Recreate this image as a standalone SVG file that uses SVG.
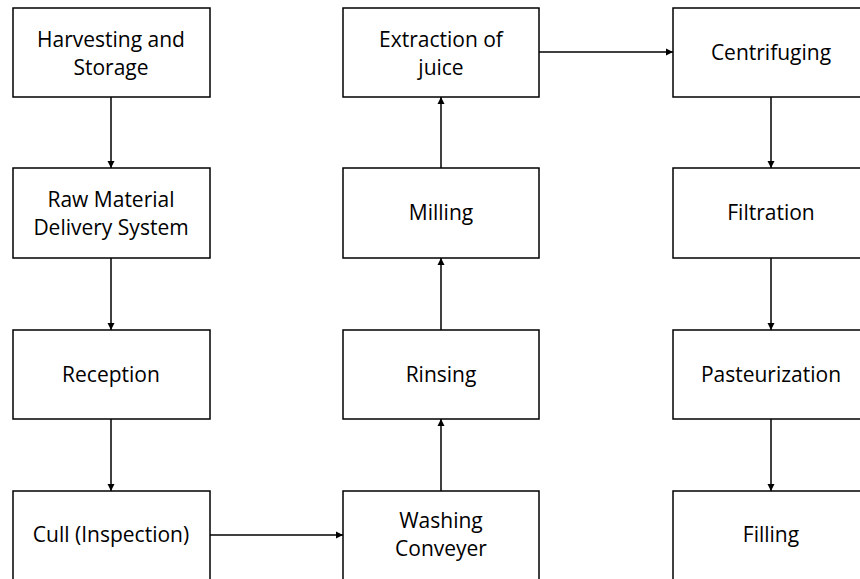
<svg xmlns="http://www.w3.org/2000/svg" width="860" height="579" viewBox="0 0 860 579">
<defs>
<marker id="ah" markerWidth="8" markerHeight="8" refX="7" refY="4" orient="auto" markerUnits="userSpaceOnUse">
<path d="M0,0.5 L7,4 L0,7.5 Z" fill="#000"/>
</marker>
<style>
.box{fill:#fff;stroke:#000;stroke-width:1.5}
.t{font-family:"Open Sans","Noto Sans",sans-serif;font-size:21px;fill:#000;text-anchor:middle}
.c{stroke:#000;stroke-width:1.5;fill:none;marker-end:url(#ah)}
</style>
</defs>
<rect width="860" height="579" fill="#fff"/>
<g id="connectors">
<line class="c" x1="111" y1="97" x2="111" y2="168"/>
<line class="c" x1="111" y1="258" x2="111" y2="330"/>
<line class="c" x1="111" y1="419" x2="111" y2="491"/>
<line class="c" x1="210" y1="535" x2="343" y2="535"/>
<line class="c" x1="441" y1="491" x2="441" y2="419"/>
<line class="c" x1="441" y1="330" x2="441" y2="258"/>
<line class="c" x1="441" y1="168" x2="441" y2="97"/>
<line class="c" x1="539" y1="52" x2="673" y2="52"/>
<line class="c" x1="771" y1="97" x2="771" y2="168"/>
<line class="c" x1="771" y1="258" x2="771" y2="330"/>
<line class="c" x1="771" y1="419" x2="771" y2="491"/>
</g>
<g id="harvesting"><rect class="box" x="13" y="8" width="197" height="89"/><text class="t" x="111" y="47">Harvesting and</text><text class="t" x="111" y="75">Storage</text></g>
<g id="rawmaterial"><rect class="box" x="13" y="168" width="197" height="90"/><text class="t" x="111" y="207">Raw Material</text><text class="t" x="111" y="235">Delivery System</text></g>
<g id="reception"><rect class="box" x="13" y="330" width="197" height="89"/><text class="t" x="111" y="382">Reception</text></g>
<g id="cull"><rect class="box" x="13" y="491" width="197" height="100"/><text class="t" x="111" y="542">Cull (Inspection)</text></g>
<g id="washing"><rect class="box" x="343" y="491" width="196" height="100"/><text class="t" x="441" y="528">Washing</text><text class="t" x="441" y="556">Conveyer</text></g>
<g id="rinsing"><rect class="box" x="343" y="330" width="196" height="89"/><text class="t" x="441" y="382">Rinsing</text></g>
<g id="milling"><rect class="box" x="343" y="168" width="196" height="90"/><text class="t" x="441" y="220">Milling</text></g>
<g id="extraction"><rect class="box" x="343" y="8" width="196" height="89"/><text class="t" x="441" y="47">Extraction of</text><text class="t" x="441" y="75">juice</text></g>
<g id="centrifuging"><rect class="box" x="673" y="8" width="197" height="89"/><text class="t" x="771" y="60">Centrifuging</text></g>
<g id="filtration"><rect class="box" x="673" y="168" width="197" height="90"/><text class="t" x="771" y="220">Filtration</text></g>
<g id="pasteurization"><rect class="box" x="673" y="330" width="197" height="89"/><text class="t" x="771" y="382">Pasteurization</text></g>
<g id="filling"><rect class="box" x="673" y="491" width="197" height="100"/><text class="t" x="771" y="542">Filling</text></g>
</svg>
